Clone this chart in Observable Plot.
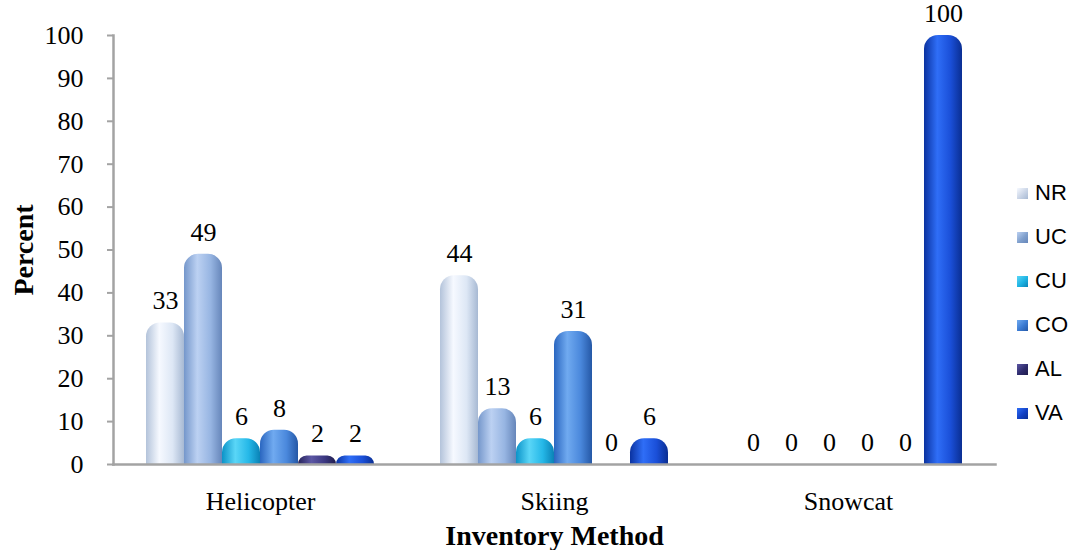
<!DOCTYPE html>
<html>
<head>
<meta charset="utf-8">
<script src="https://cdn.jsdelivr.net/npm/d3@7"></script>
<script src="https://cdn.jsdelivr.net/npm/@observablehq/plot@0.6"></script>
<style>
  html, body { margin: 0; padding: 0; background: #fff; }
  #wrap { position: relative; width: 1075px; height: 550px; }
  #legend { position: absolute; left: 1017px; top: 171px; font-family: "Liberation Sans", Arial, sans-serif; font-size: 22px; color: #000; }
  .li { display: flex; align-items: center; height: 44px; }
  .sw { width: 11px; height: 11px; margin-right: 7px; }
  g[aria-label="y-axis label"] text, g[aria-label="fx-axis label"] text { font-weight: bold; font-size: 28px; }
</style>
</head>
<body>
<div id="wrap"><div id="legend"></div></div>
<script>
const methods = ["Helicopter", "Skiing", "Snowcat"];
const series = ["NR", "UC", "CU", "CO", "AL", "VA"];
const helicopter = [33, 49, 6, 8, 2, 2];
const skiing = [44, 13, 6, 31, 0, 6];
const snowcat = [0, 0, 0, 0, 0, 100];
const yTicks = [0, 10, 20, 30, 40, 50, 60, 70, 80, 90, 100];

// gradient stops per series: edge, highlight, mid, edge
const gradients = {
  NR: ["#b3c3da", "#f6f9ff", "#dde7f5", "#a7b9d3"],
  UC: ["#7597cb", "#bcd1f2", "#97b5e2", "#6686ba"],
  CU: ["#0b93c8", "#5ad6f7", "#25b8e8", "#0a82b6"],
  CO: ["#2a66c0", "#70aaf0", "#4a88dc", "#2558a6"],
  AL: ["#26235a", "#5c57a4", "#3c3882", "#201d4c"],
  VA: ["#0a32a0", "#2f6ef7", "#1a4fd8", "#0a2e92"]
};
const legendColors = {NR: "#c9d4e6", UC: "#7f9fcc", CU: "#1cb2e2", CO: "#3a7ad2", AL: "#2e2b6c", VA: "#1240c4"};

const values = [helicopter, skiing, snowcat];
const data = [];
methods.forEach((m, i) => series.forEach((s, j) => data.push({method: m, series: s, value: values[i][j]})));

const plot = Plot.plot({
  width: 1075,
  height: 550,
  marginLeft: 113,
  marginRight: 80,
  marginTop: 35,
  marginBottom: 86,
  style: {fontFamily: "'Liberation Serif', 'Times New Roman', serif", fontSize: "26px", color: "#000", background: "transparent", overflow: "visible"},
  fx: {domain: methods, padding: 0},
  x: {domain: series, paddingInner: 0, paddingOuter: 0.77, axis: null},
  y: {domain: [0, 100]},
  color: {domain: series, range: series.map(s => `url(#grad-${s})`)},
  marks: [
    Plot.barY(data, {fx: "method", x: "series", y: "value", fill: "series", inset: 0, ry1: 14}),
    Plot.text(data, {fx: "method", x: "series", y: "value", text: d => String(d.value), dy: -22, fontSize: 26, fill: "#000"}),
    Plot.frame({facet: "super", anchor: "left", stroke: "#a3a3a3", strokeWidth: 2.5}),
    Plot.frame({facet: "super", anchor: "bottom", stroke: "#a3a3a3", strokeWidth: 2.5}),
    Plot.axisY({ticks: yTicks, tickSize: 6, tickPadding: 24, stroke: "#a3a3a3", strokeWidth: 2, fontSize: 26,
      label: "Percent", labelAnchor: "center", labelArrow: "none", labelOffset: 100}),
    Plot.axisFx({anchor: "bottom", tickSize: 0, tickPadding: 27, fontSize: 26,
      label: "Inventory Method", labelAnchor: "center", labelArrow: "none", labelOffset: 80})
  ]
});

// gradient definitions for the cylinder-like bars
const ns = "http://www.w3.org/2000/svg";
const defs = document.createElementNS(ns, "defs");
for (const s of series) {
  const g = document.createElementNS(ns, "linearGradient");
  g.setAttribute("id", `grad-${s}`);
  g.setAttribute("x1", "0"); g.setAttribute("x2", "1"); g.setAttribute("y1", "0"); g.setAttribute("y2", "0");
  const c = gradients[s];
  [[0, c[0]], [0.35, c[1]], [0.7, c[2]], [1, c[3]]].forEach(([o, col]) => {
    const st = document.createElementNS(ns, "stop");
    st.setAttribute("offset", o); st.setAttribute("stop-color", col);
    g.appendChild(st);
  });
  defs.appendChild(g);
}
plot.insertBefore(defs, plot.firstChild);
plot.style.position = "absolute";
plot.style.left = "0"; plot.style.top = "0";
document.getElementById("wrap").insertBefore(plot, document.getElementById("legend"));

const legend = document.getElementById("legend");
for (const s of series) {
  const row = document.createElement("div");
  row.className = "li";
  const sw = document.createElement("div");
  sw.className = "sw";
  sw.style.background = `linear-gradient(135deg, ${gradients[s][1]} 0%, ${legendColors[s]} 55%, ${gradients[s][3]} 100%)`;
  const t = document.createElement("span");
  t.textContent = s;
  row.appendChild(sw); row.appendChild(t);
  legend.appendChild(row);
}
</script>
</body>
</html>
